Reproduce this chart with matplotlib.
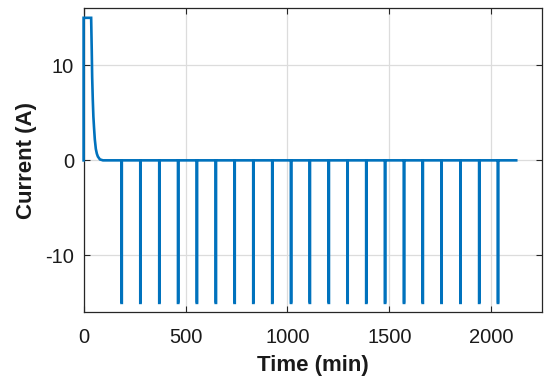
import numpy as np
import matplotlib
matplotlib.use("Agg")
import matplotlib.pyplot as plt

plt.rcParams['font.family'] = ['Liberation Sans', 'DejaVu Sans']
plt.rcParams['axes.unicode_minus'] = False

# charge phase: CC plateau then CV decay
charge_t = [0, 0, 37, 40, 42, 45, 48, 51, 55, 60, 65, 70, 80, 95]
charge_i = [0, 15, 15, 11.5, 8.8, 6.4, 4.6, 3.5, 2.2, 1.2, 0.7, 0.4, 0.1, 0]

# discharge pulses (start times, min) and their amplitude
pulse_t = [186, 278, 371, 463, 555, 648, 740, 832, 925, 1017, 1109,
           1202, 1294, 1386, 1478, 1571, 1663, 1755, 1848, 1940, 2032]
pulse_amp = -15
pulse_width = 1.5
end_t = 2122

# build the full current profile
t = list(charge_t)
i = list(charge_i)
for p in pulse_t:
    t += [p, p, p + pulse_width, p + pulse_width]
    i += [0, pulse_amp, pulse_amp, 0]
t.append(end_t)
i.append(0)

fig = plt.figure(figsize=(5.5, 3.89), dpi=100)
ax = fig.add_axes([0.152, 0.197, 0.834, 0.7816])

ax.plot(t, i, color='#0072BD', linewidth=1.9, solid_joinstyle='miter',
        clip_on=False, zorder=3)

ax.set_xlim(0, 2250)
ax.set_ylim(-16, 16)
ax.set_xticks([0, 500, 1000, 1500, 2000])
ax.set_yticks([-10, 0, 10])
ax.grid(True, color='#dcdcdc', linewidth=0.9)
ax.set_axisbelow(True)

ax.tick_params(direction='in', length=4, width=0.8, colors='#262626',
               labelsize=14.5, top=True, right=True)
ax.tick_params(axis='x', pad=11)
ax.tick_params(axis='y', pad=7)
for lab in ax.get_xticklabels() + ax.get_yticklabels():
    lab.set_color('#1a1a1a')
for s in ax.spines.values():
    s.set_color('#262626')
    s.set_linewidth(0.9)

ax.set_xlabel('Time (min)', fontsize=16, fontweight='bold', labelpad=6,
              color='#1a1a1a')
ax.set_ylabel('Current (A)', fontsize=16, fontweight='bold', labelpad=6,
              color='#1a1a1a')

fig.savefig('out.png', dpi=100)
